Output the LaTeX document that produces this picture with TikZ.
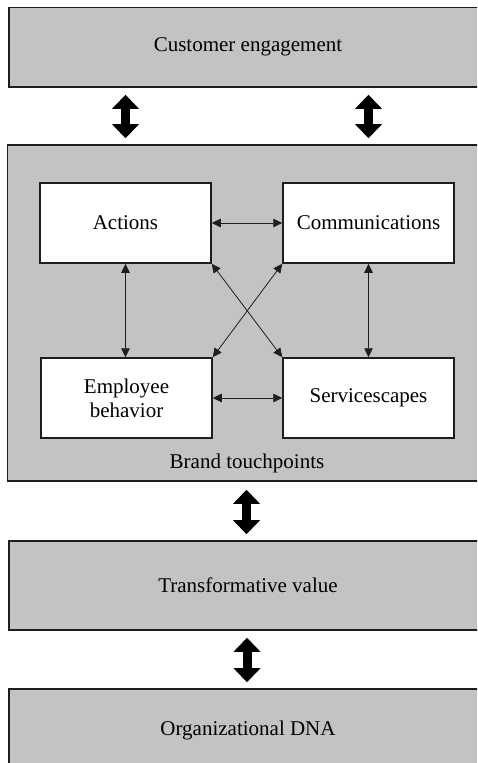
\documentclass[tikz,border=0pt]{standalone}
\usepackage{fontspec}
\setmainfont{Liberation Serif}
\usetikzlibrary{arrows.meta}
\definecolor{boxgray}{RGB}{195,195,195}
\definecolor{edge}{RGB}{30,30,30}
\tikzset{
  outerbox/.style={draw=edge, line width=1.6pt, fill=boxgray, rectangle, inner sep=0pt},
  innerbox/.style={draw=edge, line width=1.5pt, fill=white, rectangle, inner sep=0pt,
                   minimum width=171pt, minimum height=80pt, align=center},
  thinarrow/.style={draw=edge, line width=0.8pt,
                    {Triangle[length=9pt,width=8.5pt]}-{Triangle[length=9pt,width=8.5pt]}},
  thickarrow/.style={draw=black, line width=9pt,
                    {Triangle[length=14pt,width=27pt,line width=0pt]}-{Triangle[length=14pt,width=27pt,line width=0pt]}}
}
\begin{document}
\begin{tikzpicture}[x=1pt,y=-1pt,font=\fontsize{21}{24}\selectfont]
\useasboundingbox (0,0) rectangle (477,763);
\clip (0,0) rectangle (477,763);
\fill[white] (0,0) rectangle (477,763);
% outer boxes
\node[outerbox, minimum width=478pt, minimum height=79.5pt] (ce) at (248,47.25) {Customer engagement};
\node[outerbox, minimum width=479.5pt, minimum height=336pt] (bt) at (247.25,313) {};
\node (btl) at (247,463) {Brand touchpoints};
\node[outerbox, minimum width=478pt, minimum height=89pt] (tv) at (248,585.5) {Transformative value};
\node[outerbox, minimum width=478pt, minimum height=82pt] (dna) at (248,730) {Organizational DNA};
% inner boxes
\node[innerbox] (act) at (125.5,223) {Actions};
\node[innerbox] (comm) at (368.5,223) {Communications};
\node[innerbox] (emp) at (126.5,398) {Employee\\behavior};
\node[innerbox] (serv) at (368.5,398) {Servicescapes};
% thin arrows
\draw[thinarrow] (act.east) -- (comm.west |- act.east);
\draw[thinarrow] (emp.east) -- (serv.west |- emp.east);
\draw[thinarrow] (act.south) -- (act.south |- emp.north);
\draw[thinarrow] (comm.south) -- (comm.south |- serv.north);
\draw[thinarrow] (act.south east) -- (serv.north west);
\draw[thinarrow] (comm.south west) -- (emp.north east);
% thick arrows
\draw[thickarrow, shorten <=7pt, shorten >=6pt] (ce.south -| act) -- (bt.north -| act);
\draw[thickarrow, shorten <=7pt, shorten >=6pt] (ce.south -| comm) -- (bt.north -| comm);
\draw[thickarrow, shorten <=8pt, shorten >=6pt] (bt.south -| 246.5,0) -- (tv.north -| 246.5,0);
\draw[thickarrow, shorten <=7pt, shorten >=6pt] (tv.south -| 247,0) -- (dna.north -| 247,0);
\end{tikzpicture}
\end{document}
